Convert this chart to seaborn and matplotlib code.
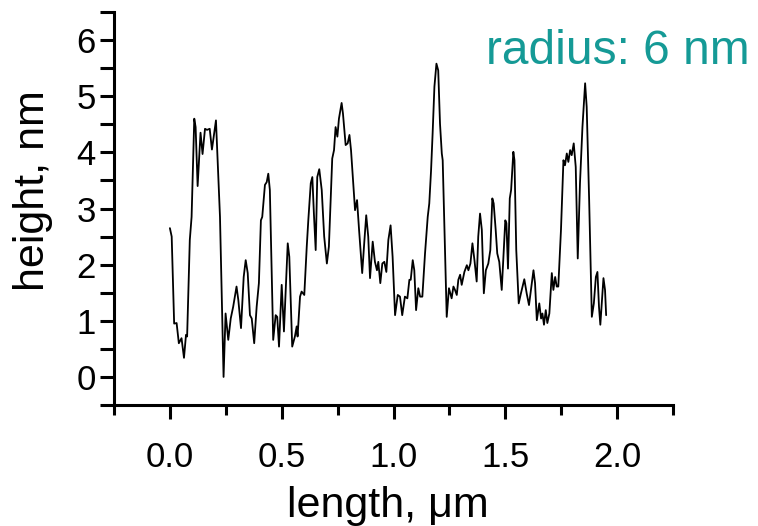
import matplotlib
matplotlib.use("Agg")
import matplotlib.pyplot as plt
import seaborn as sns
import pandas as pd
from matplotlib.ticker import MultipleLocator

# ---- data ----
length_um = [
    0.000, 0.008, 0.019, 0.030, 0.040, 0.052, 0.063, 0.072, 0.077, 0.089,
    0.097, 0.109, 0.115, 0.124, 0.137, 0.146, 0.157, 0.166, 0.178, 0.188,
    0.197, 0.206, 0.224, 0.240, 0.249, 0.261, 0.272, 0.283, 0.298, 0.306,
    0.318, 0.330, 0.339, 0.348, 0.358, 0.366, 0.377, 0.388, 0.398, 0.407,
    0.413, 0.425, 0.433, 0.440, 0.447, 0.462, 0.473, 0.480, 0.488, 0.500,
    0.510, 0.527, 0.534, 0.547, 0.559, 0.567, 0.571, 0.582, 0.589, 0.601,
    0.612, 0.619, 0.630, 0.637, 0.644, 0.652, 0.659, 0.668, 0.679, 0.690,
    0.702, 0.711, 0.726, 0.734, 0.741, 0.749, 0.756, 0.768, 0.774, 0.786,
    0.795, 0.803, 0.810, 0.820, 0.828, 0.837, 0.846, 0.860, 0.869, 0.878,
    0.887, 0.895, 0.907, 0.917, 0.926, 0.932, 0.941, 0.950, 0.959, 0.968,
    0.977, 0.987, 0.996, 1.007, 1.019, 1.029, 1.039, 1.051, 1.062, 1.071,
    1.077, 1.086, 1.093, 1.101, 1.111, 1.119, 1.129, 1.141, 1.153, 1.160,
    1.168, 1.175, 1.183, 1.192, 1.200, 1.208, 1.216, 1.220, 1.238, 1.248,
    1.260, 1.268, 1.275, 1.283, 1.290, 1.298, 1.305, 1.317, 1.328, 1.335,
    1.344, 1.353, 1.362, 1.372, 1.379, 1.387, 1.395, 1.404, 1.413, 1.424,
    1.433, 1.442, 1.448, 1.457, 1.464, 1.473, 1.484, 1.493, 1.500, 1.505,
    1.512, 1.520, 1.526, 1.536, 1.541, 1.549, 1.560, 1.570, 1.585, 1.596,
    1.606, 1.626, 1.633, 1.641, 1.652, 1.660, 1.666, 1.673, 1.681, 1.688,
    1.697, 1.708, 1.715, 1.723, 1.730, 1.737, 1.749, 1.760, 1.767, 1.775,
    1.782, 1.790, 1.797, 1.806, 1.815, 1.824, 1.834, 1.845, 1.857, 1.864,
    1.875, 1.887, 1.896, 1.905, 1.912, 1.919, 1.925, 1.939, 1.946, 1.951,
]
height_nm = [
    2.65, 2.50, 0.95, 0.96, 0.60, 0.69, 0.34, 0.75, 0.72, 2.44,
    2.85, 4.60, 4.45, 3.40, 4.35, 3.97, 4.42, 4.40, 4.42, 4.05,
    4.31, 4.57, 2.85, 0.00, 1.13, 0.66, 1.04, 1.25, 1.61, 1.37,
    0.87, 1.78, 2.08, 1.85, 1.10, 1.04, 0.60, 1.25, 1.67, 2.79,
    2.85, 3.42, 3.47, 3.62, 3.33, 0.66, 1.10, 1.07, 0.54, 1.64,
    0.81, 2.38, 2.14, 0.54, 0.72, 0.90, 0.72, 1.43, 1.52, 1.46,
    2.32, 2.79, 3.45, 3.56, 2.91, 2.26, 3.56, 3.70, 3.33, 2.50,
    2.02, 2.32, 3.89, 4.04, 4.45, 4.28, 4.60, 4.88, 4.69, 4.13,
    4.16, 4.31, 4.04, 3.45, 2.97, 3.15, 2.62, 1.85, 2.38, 2.88,
    2.50, 1.76, 2.41, 2.05, 1.90, 2.05, 1.67, 2.02, 2.05, 1.87,
    2.44, 2.70, 2.14, 1.10, 1.46, 1.43, 1.10, 1.43, 1.40, 1.73,
    1.73, 2.08, 1.90, 1.19, 1.58, 1.43, 1.43, 2.20, 2.85, 3.09,
    3.68, 4.34, 5.17, 5.58, 5.46, 4.51, 3.98, 3.86, 1.07, 1.58,
    1.40, 1.61, 1.55, 1.46, 1.73, 1.82, 1.64, 1.87, 1.99, 1.90,
    2.02, 2.38, 2.08, 1.70, 2.50, 2.91, 2.62, 1.49, 1.90, 2.02,
    2.26, 3.18, 3.09, 2.62, 2.20, 2.05, 1.55, 2.26, 2.79, 2.74,
    1.93, 3.18, 3.33, 4.01, 3.86, 2.26, 1.31, 1.49, 1.74, 1.48,
    1.28, 1.90, 1.67, 1.01, 1.31, 1.04, 1.13, 0.93, 1.19, 0.96,
    1.13, 1.85, 1.55, 1.78, 1.61, 1.61, 2.62, 3.86, 3.77, 3.98,
    3.83, 4.04, 3.95, 4.16, 3.74, 2.11, 3.45, 4.45, 5.23, 4.81,
    3.15, 1.07, 1.31, 1.78, 1.87, 1.25, 0.93, 1.76, 1.55, 1.10,
]
x_ticks = [0.0, 0.5, 1.0, 1.5, 2.0]
x_tick_labels = ["0.0", "0.5", "1.0", "1.5", "2.0"]
y_ticks = [0, 1, 2, 3, 4, 5, 6]
y_tick_labels = ["0", "1", "2", "3", "4", "5", "6"]
annotation = "radius: 6 nm"

df = pd.DataFrame({"length": length_um, "height": height_nm})

sns.set_style("ticks")
plt.rcParams["font.family"] = ["Liberation Sans", "DejaVu Sans"]
plt.rcParams["text.color"] = "black"
plt.rcParams["axes.labelcolor"] = "black"

fig = plt.figure(figsize=(7.58, 5.26), dpi=100)
ax = fig.add_axes([114 / 758, 1 - 405 / 526, (673 - 114) / 758, (405 - 12) / 526])

sns.lineplot(data=df, x="length", y="height", sort=False, estimator=None,
             color="black", linewidth=1.3, ax=ax)

ax.set_xlim(-0.25, 2.25)
ax.set_ylim(-0.5, 6.5)
ax.set_xticks(x_ticks)
ax.set_xticklabels(x_tick_labels)
ax.set_yticks(y_ticks)
ax.set_yticklabels(y_tick_labels)
ax.xaxis.set_minor_locator(MultipleLocator(0.25))
ax.yaxis.set_minor_locator(MultipleLocator(0.5))

for side in ["top", "right"]:
    ax.spines[side].set_visible(False)
for side in ["left", "bottom"]:
    ax.spines[side].set_linewidth(2.2)
    ax.spines[side].set_color("black")

ax.tick_params(axis="both", which="major", direction="out", length=10,
               width=2.2, labelsize=25, color="black", labelcolor="black")
ax.tick_params(axis="x", which="minor", direction="out", length=7.5,
               width=2.2, color="black")
ax.tick_params(axis="y", which="minor", direction="out", length=10,
               width=2.2, color="black")
ax.tick_params(axis="x", which="major", pad=16)
ax.tick_params(axis="y", which="major", pad=3)

ax.set_xlabel("length, \u03bcm", fontsize=31, color="black")
ax.set_ylabel("height, nm", fontsize=31, color="black")
ax.xaxis.set_label_coords(0.49, -0.205)
ax.yaxis.set_label_coords(-0.11, 0.545)

fig.text(750 / 758, 1 - 64 / 526, annotation, color="#159a96", fontsize=34.5,
         ha="right", va="baseline")

fig.savefig("out.png", dpi=100)
